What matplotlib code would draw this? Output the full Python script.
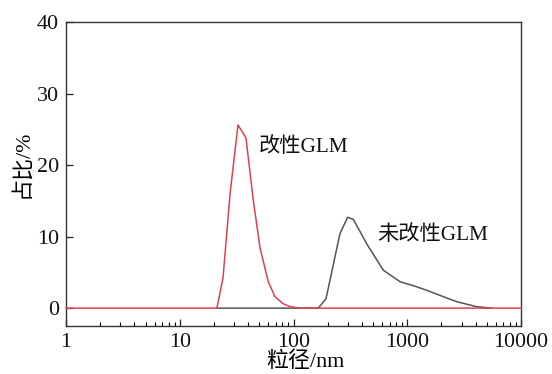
import matplotlib
matplotlib.use("Agg")
import matplotlib.pyplot as plt
from matplotlib.ticker import LogLocator, NullFormatter, FixedLocator

plt.rcParams['font.family'] = ['Liberation Serif', 'Noto Sans CJK SC']

# Modified GLM (red)
mod_x = [1, 21.2, 24, 27.7, 32.5, 38.2, 44.3, 50.8, 60, 68.7, 80.4, 93.2, 114, 10000]
mod_y = [0, 0, 4.2, 16.0, 25.6, 23.8, 15.1, 8.4, 3.7, 1.6, 0.65, 0.2, 0, 0]

# Unmodified GLM (gray)
unmod_x = [21, 165, 193, 256, 299, 336, 440, 616, 864, 1200, 1480, 2000, 2720, 4075, 5490]
unmod_y = [0, 0, 1.3, 10.4, 12.7, 12.4, 9.0, 5.3, 3.7, 3.0, 2.5, 1.7, 0.9, 0.2, 0]

xticks = [1, 10, 100, 1000, 10000]
xticklabels = ['1', '10', '100', '1000', '10000']
yticks = [0, 10, 20, 30, 40]

fs = 15.8

fig = plt.figure(figsize=(5.52, 3.74), dpi=100)
ax = fig.add_axes([66/552, 1-326/374, (521-66)/552, (326-22)/374])

ax.plot(unmod_x, unmod_y, color='#555555', lw=1.1, zorder=2)
ax.plot(mod_x, mod_y, color='#e0404f', lw=1.1, zorder=3, clip_on=False)

ax.set_xscale('log')
ax.set_xlim(1, 10000)
ax.set_ylim(-2.5, 40)
ax.xaxis.set_major_locator(FixedLocator(xticks))
ax.set_xticklabels(xticklabels)
ax.xaxis.set_minor_locator(LogLocator(base=10, subs=range(2, 10)))
ax.xaxis.set_minor_formatter(NullFormatter())
ax.set_yticks(yticks)

ax.tick_params(axis='both', which='major', direction='in', length=5, width=0.9,
               labelsize=fs, colors='#222222', labelcolor='#111111', top=False, right=False)
ax.tick_params(axis='x', which='minor', direction='in', length=3, width=0.8, top=False)
ax.tick_params(axis='x', which='major', pad=5)
ax.tick_params(axis='y', which='major', pad=5)
for s in ax.spines.values():
    s.set_linewidth(1.0)
    s.set_color('#333333')

ax.set_xlabel('粒径/nm', fontsize=fs, labelpad=0)
ax.xaxis.set_label_coords((305-66)/455, -0.085)
ax.set_ylabel('占比/%', fontsize=fs)
ax.yaxis.set_label_coords(-0.075, (326-164)/304)

ax.text(259/552, 1-147/374, '改性GLM', transform=fig.transFigure, fontsize=fs - 0.5,
        va='center', ha='left', color='#111111')
ax.text(377/552, 1-235/374, '未改性GLM', transform=fig.transFigure, fontsize=fs - 0.5,
        va='center', ha='left', color='#111111')

fig.savefig('out.png', dpi=100)
